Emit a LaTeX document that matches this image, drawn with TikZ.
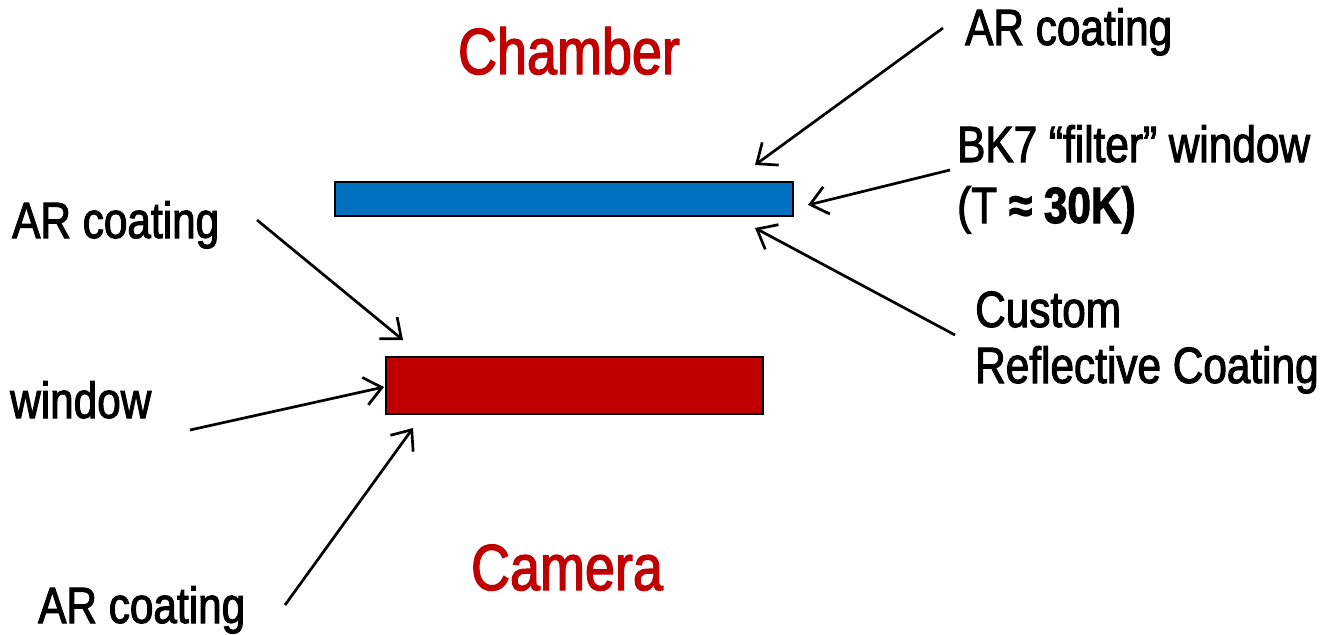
\documentclass[tikz,border=0pt]{standalone}
\usepackage{fontspec}
\setmainfont{Liberation Sans}[FakeStretch=0.83,FakeBold=2]
\usetikzlibrary{arrows.meta}
\definecolor{winblue}{HTML}{0070C0}
\definecolor{winred}{HTML}{C00000}
\begin{document}
\begin{tikzpicture}[x=1pt,y=-1pt,
  lbl/.style={anchor=base west,inner sep=0pt,font=\fontsize{51}{60}\selectfont},
  title/.style={anchor=base,inner sep=0pt,text=winred,font=\fontsize{65}{72}\selectfont},
  pointer/.style={line width=2.7pt,-{Straight Barb[length=17pt,width=28pt,line width=2.7pt]}},
  glass/.style={draw=black,line width=2.5pt,inner sep=0pt}]
\useasboundingbox (0,0) rectangle (1337,634);
\node[title] (chamber) at (569,74) {Chamber};
\node[title] (camera) at (567,590) {Camera};
\node[glass,fill=winblue,minimum width=458pt,minimum height=34pt] (filter) at (564,199) {};
\node[glass,fill=winred,minimum width=377pt,minimum height=57pt] (win) at (574.5,385.5) {};
\node[lbl] (arTop) at (965,45) {AR coating};
\node[lbl] (bk7) at (957,162) {BK7 “filter” window};
\node[lbl] (temp) at (957,223) {(T {\bfseries ≈ 30K)}};
\node[lbl] (custom) at (975,327) {Custom};
\node[lbl] (refl) at (975,383) {Reflective Coating};
\node[lbl] (arLeft) at (12,238) {AR coating};
\node[lbl] (window) at (10,418) {window};
\node[lbl] (arBot) at (38,623) {AR coating};
\coordinate (a1s) at (943,28);  \coordinate (a1e) at (755,165);
\coordinate (a2s) at (950,170); \coordinate (a2e) at (808,205);
\coordinate (a3s) at (955,335); \coordinate (a3e) at (755,228);
\coordinate (a4s) at (257,220); \coordinate (a4e) at (403,340);
\coordinate (a5s) at (190,430); \coordinate (a5e) at (384,387);
\coordinate (a6s) at (285,605); \coordinate (a6e) at (413,428);
\draw[pointer] (a1s) -- (a1e);
\draw[pointer] (a2s) -- (a2e);
\draw[pointer] (a3s) -- (a3e);
\draw[pointer] (a4s) -- (a4e);
\draw[pointer] (a5s) -- (a5e);
\draw[pointer] (a6s) -- (a6e);
\end{tikzpicture}
\end{document}
